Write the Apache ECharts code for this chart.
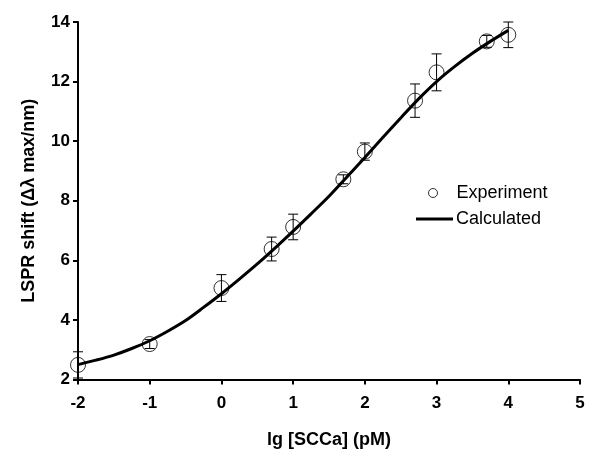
<!DOCTYPE html>
<html>
<head>
<meta charset="utf-8">
<script src="https://cdn.jsdelivr.net/npm/echarts@6/dist/echarts.min.js"></script>
<style>html,body{margin:0;padding:0;background:#fff}#c{width:595px;height:453px}</style>
</head>
<body>
<div id="c"></div>
<script>
// Experimental data
const expX = [-2, -1, 0, 0.7, 1, 1.7, 2, 2.7, 3, 3.7, 4];
const expY = [2.49, 3.19, 5.07, 6.38, 7.12, 8.72, 9.65, 11.36, 12.31, 13.35, 13.57];
const expErr = [0.44, 0.15, 0.45, 0.4, 0.43, 0.15, 0.29, 0.56, 0.62, 0.2, 0.43];
// Calculated curve
const calcX = [-2, -1.75, -1.5, -1.25, -1, -0.75, -0.5, -0.25, 0, 0.25, 0.5, 0.75, 1,
               1.25, 1.5, 1.75, 2, 2.25, 2.5, 2.75, 3, 3.25, 3.5, 3.75, 4];
const calcY = [2.5, 2.65, 2.82, 3.04, 3.3, 3.62, 3.98, 4.42, 4.88, 5.37, 5.88, 6.42, 6.98,
               7.56, 8.15, 8.8, 9.45, 10.12, 10.78, 11.42, 12.0, 12.5, 12.95, 13.35, 13.72];
const xTicks = [-2, -1, 0, 1, 2, 3, 4, 5];
const yTicks = [2, 4, 6, 8, 10, 12, 14];

const chart = echarts.init(document.getElementById('c'), null, {renderer: 'canvas'});
const font = 'Arial, "Liberation Sans", sans-serif';
const axisCommon = {
  axisLine: {show: true, onZero: false, lineStyle: {color: '#000', width: 2}},
  axisTick: {show: true, inside: false, length: 5, lineStyle: {color: '#000', width: 2}},
  splitLine: {show: false},
  axisLabel: {color: '#000', fontWeight: 'bold', fontSize: 17, fontFamily: font}
};
chart.setOption({
  animation: false,
  backgroundColor: '#fff',
  grid: {left: 78, right: 15, top: 22, bottom: 73.5, containLabel: false, outerBoundsMode: 'none'},
  xAxis: Object.assign({}, axisCommon, {
    type: 'value', min: xTicks[0], max: xTicks[xTicks.length - 1], interval: 1,
    name: 'lg [SCCa] (pM)', nameLocation: 'middle', nameGap: 52,
    nameTextStyle: {color: '#000', fontWeight: 'bold', fontSize: 18, fontFamily: font},
    axisLabel: Object.assign({}, axisCommon.axisLabel, {margin: 15, showMaxLabel: true})
  }),
  yAxis: Object.assign({}, axisCommon, {
    type: 'value', min: yTicks[0], max: yTicks[yTicks.length - 1], interval: 2,
    name: 'LSPR shift (\u0394\u03bb max/nm)', nameLocation: 'middle', nameGap: 40,
    nameTextStyle: {color: '#000', fontWeight: 'bold', fontSize: 18, fontFamily: font},
    axisLabel: Object.assign({}, axisCommon.axisLabel, {margin: 8})
  }),
  legend: [
    {
      data: [{name: 'Experiment', icon: 'circle'}],
      left: 423, top: 179, itemWidth: 9, itemHeight: 9,
      itemStyle: {color: '#fff', borderColor: '#000', borderWidth: 1},
      textStyle: {color: '#000', fontSize: 18, fontFamily: font, padding: [0, 0, 0, 14]},
      selectedMode: false
    },
    {
      data: [{name: 'Calculated', icon: 'rect'}],
      left: 411, top: 205, itemWidth: 37, itemHeight: 3,
      itemStyle: {color: '#000'},
      textStyle: {color: '#000', fontSize: 18, fontFamily: font, padding: [0, 0, 0, -2]},
      selectedMode: false
    }
  ],
  series: [
    {
      name: 'Experiment', type: 'scatter',
      data: expX.map((x, i) => [x, expY[i]]),
      symbol: 'circle', symbolSize: 15,
      itemStyle: {color: 'rgba(0,0,0,0)', borderColor: '#000', borderWidth: 1},
      z: 2
    },
    {
      name: 'ErrorBars', type: 'custom',
      data: expX.map((x, i) => [x, expY[i] - expErr[i], expY[i] + expErr[i]]),
      renderItem: function (params, api) {
        const lo = api.coord([api.value(0), api.value(1)]);
        const hi = api.coord([api.value(0), api.value(2)]);
        const hw = 5;
        const st = {stroke: '#000', lineWidth: 1};
        return {type: 'group', children: [
          {type: 'line', shape: {x1: lo[0], y1: lo[1], x2: hi[0], y2: hi[1]}, style: st},
          {type: 'line', shape: {x1: lo[0] - hw, y1: lo[1], x2: lo[0] + hw, y2: lo[1]}, style: st},
          {type: 'line', shape: {x1: hi[0] - hw, y1: hi[1], x2: hi[0] + hw, y2: hi[1]}, style: st}
        ]};
      },
      z: 3
    },
    {
      name: 'Calculated', type: 'line',
      data: calcX.map((x, i) => [x, calcY[i]]),
      showSymbol: false, symbol: 'none', smooth: 0.3,
      lineStyle: {color: '#000', width: 3},
      z: 4
    }
  ]
});
</script>
</body>
</html>
